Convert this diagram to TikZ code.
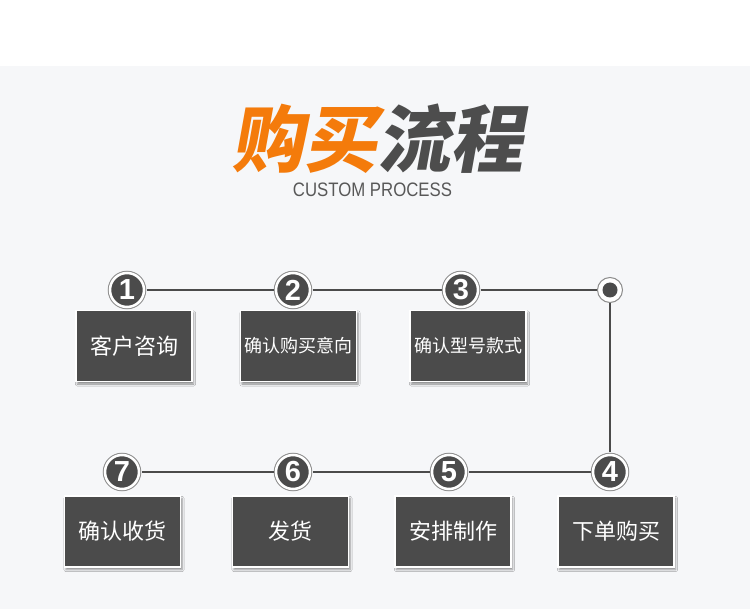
\documentclass[tikz,border=0pt]{standalone}
\usepackage{fontspec}
\usepackage{xcolor}
\usetikzlibrary{shadows.blur,fadings}
\setmainfont{Liberation Sans}
\newfontfamily\cjk{Noto Sans CJK SC}
\newfontfamily\titlefont[FakeSlant=0.18]{Noto Sans CJK SC Black}
\newfontfamily\subfont[FakeStretch=0.86]{Liberation Sans}
\definecolor{pagebg}{HTML}{F6F7F9}
\definecolor{boxfill}{HTML}{4B4B4B}
\definecolor{titleorange}{HTML}{F47B0B}
\definecolor{titlegray}{HTML}{4D4D4D}
\definecolor{linescolor}{HTML}{4B4B4B}
\definecolor{ringgray}{HTML}{8C8C8C}
\definecolor{subgray}{HTML}{585858}
\tikzfading[name=fade sides, left color=transparent!100, middle color=transparent!0, right color=transparent!100]

\begin{document}
\begin{tikzpicture}[x=1pt, y=1pt, yscale=-1,
	stepbox/.style={fill=boxfill, draw=white, line width=1.5pt, minimum width=116pt, minimum height=71pt, inner sep=0pt, text=white,
		blur shadow={shadow xshift=1.5pt, shadow yshift=-2.5pt, shadow blur steps=4, shadow opacity=45}},
	numdot/.style={circle, fill=boxfill, draw=white, line width=2.5pt, minimum size=34pt, inner sep=0pt, outer sep=2.5pt,
		preaction={draw=ringgray, line width=4.5pt}, text=white, font=\bfseries\fontsize{29}{29}\selectfont},
	enddot/.style={circle, fill=white, draw=ringgray, line width=1pt, minimum size=25pt, inner sep=0pt, outer sep=0.5pt,
		path picture={\fill[boxfill] (path picture bounding box.center) circle (7.5pt);}},
	connector/.style={draw=linescolor, line width=2pt}]

\useasboundingbox (0,0) rectangle (750,609);

\newcommand{\bigfont}{\cjk\fontsize{22}{22}\selectfont }
\newcommand{\smallfont}{\cjk\fontsize{18}{18}\selectfont }

% background
\fill[white] (0,0) rectangle (750,609);
\fill[pagebg] (0,66) rectangle (750,609);

% title
\node (title) at (377,139) {\titlefont\fontsize{73}{73}\selectfont\color{titleorange}购买\color{titlegray}流程};
\node (subtitle) at (372.5,190) {\subfont\fontsize{19.5}{19.5}\selectfont\color{subgray}CUSTOM PROCESS};
\shade[path fading=fade sides, top color=black!20, bottom color=pagebg] (150,210) rectangle (600,226);

% first row
\node [stepbox] (b1) at (134,346) {\bigfont 客户咨询};
\node [stepbox] (b2) at (298.5,346) {\smallfont 确认购买意向};
\node [stepbox] (b3) at (468,346) {\smallfont 确认型号款式};
\node [numdot] (c1) at (127,290) {1};
\node [numdot] (c2) at (293,290) {2};
\node [numdot] (c3) at (461,290) {3};
\node [enddot] (cend) at (610,290) {};

% second row
\node [stepbox] (b4) at (616,531.5) {\bigfont 下单购买};
\node [stepbox] (b5) at (453,531.5) {\bigfont 安排制作};
\node [stepbox] (b6) at (290.5,531.5) {\bigfont 发货};
\node [stepbox] (b7) at (122.5,531.5) {\bigfont 确认收货};
\node [numdot] (c4) at (610,472) {4};
\node [numdot] (c5) at (449,472) {5};
\node [numdot] (c6) at (293,472) {6};
\node [numdot] (c7) at (122,472) {7};

% connectors
\draw [connector] (c1) -- (c2);
\draw [connector] (c2) -- (c3);
\draw [connector] (c3) -- (cend);
\draw [connector] (cend) -- (c4);
\draw [connector] (c4) -- (c5);
\draw [connector] (c5) -- (c6);
\draw [connector] (c6) -- (c7);

\end{tikzpicture}
\end{document}
